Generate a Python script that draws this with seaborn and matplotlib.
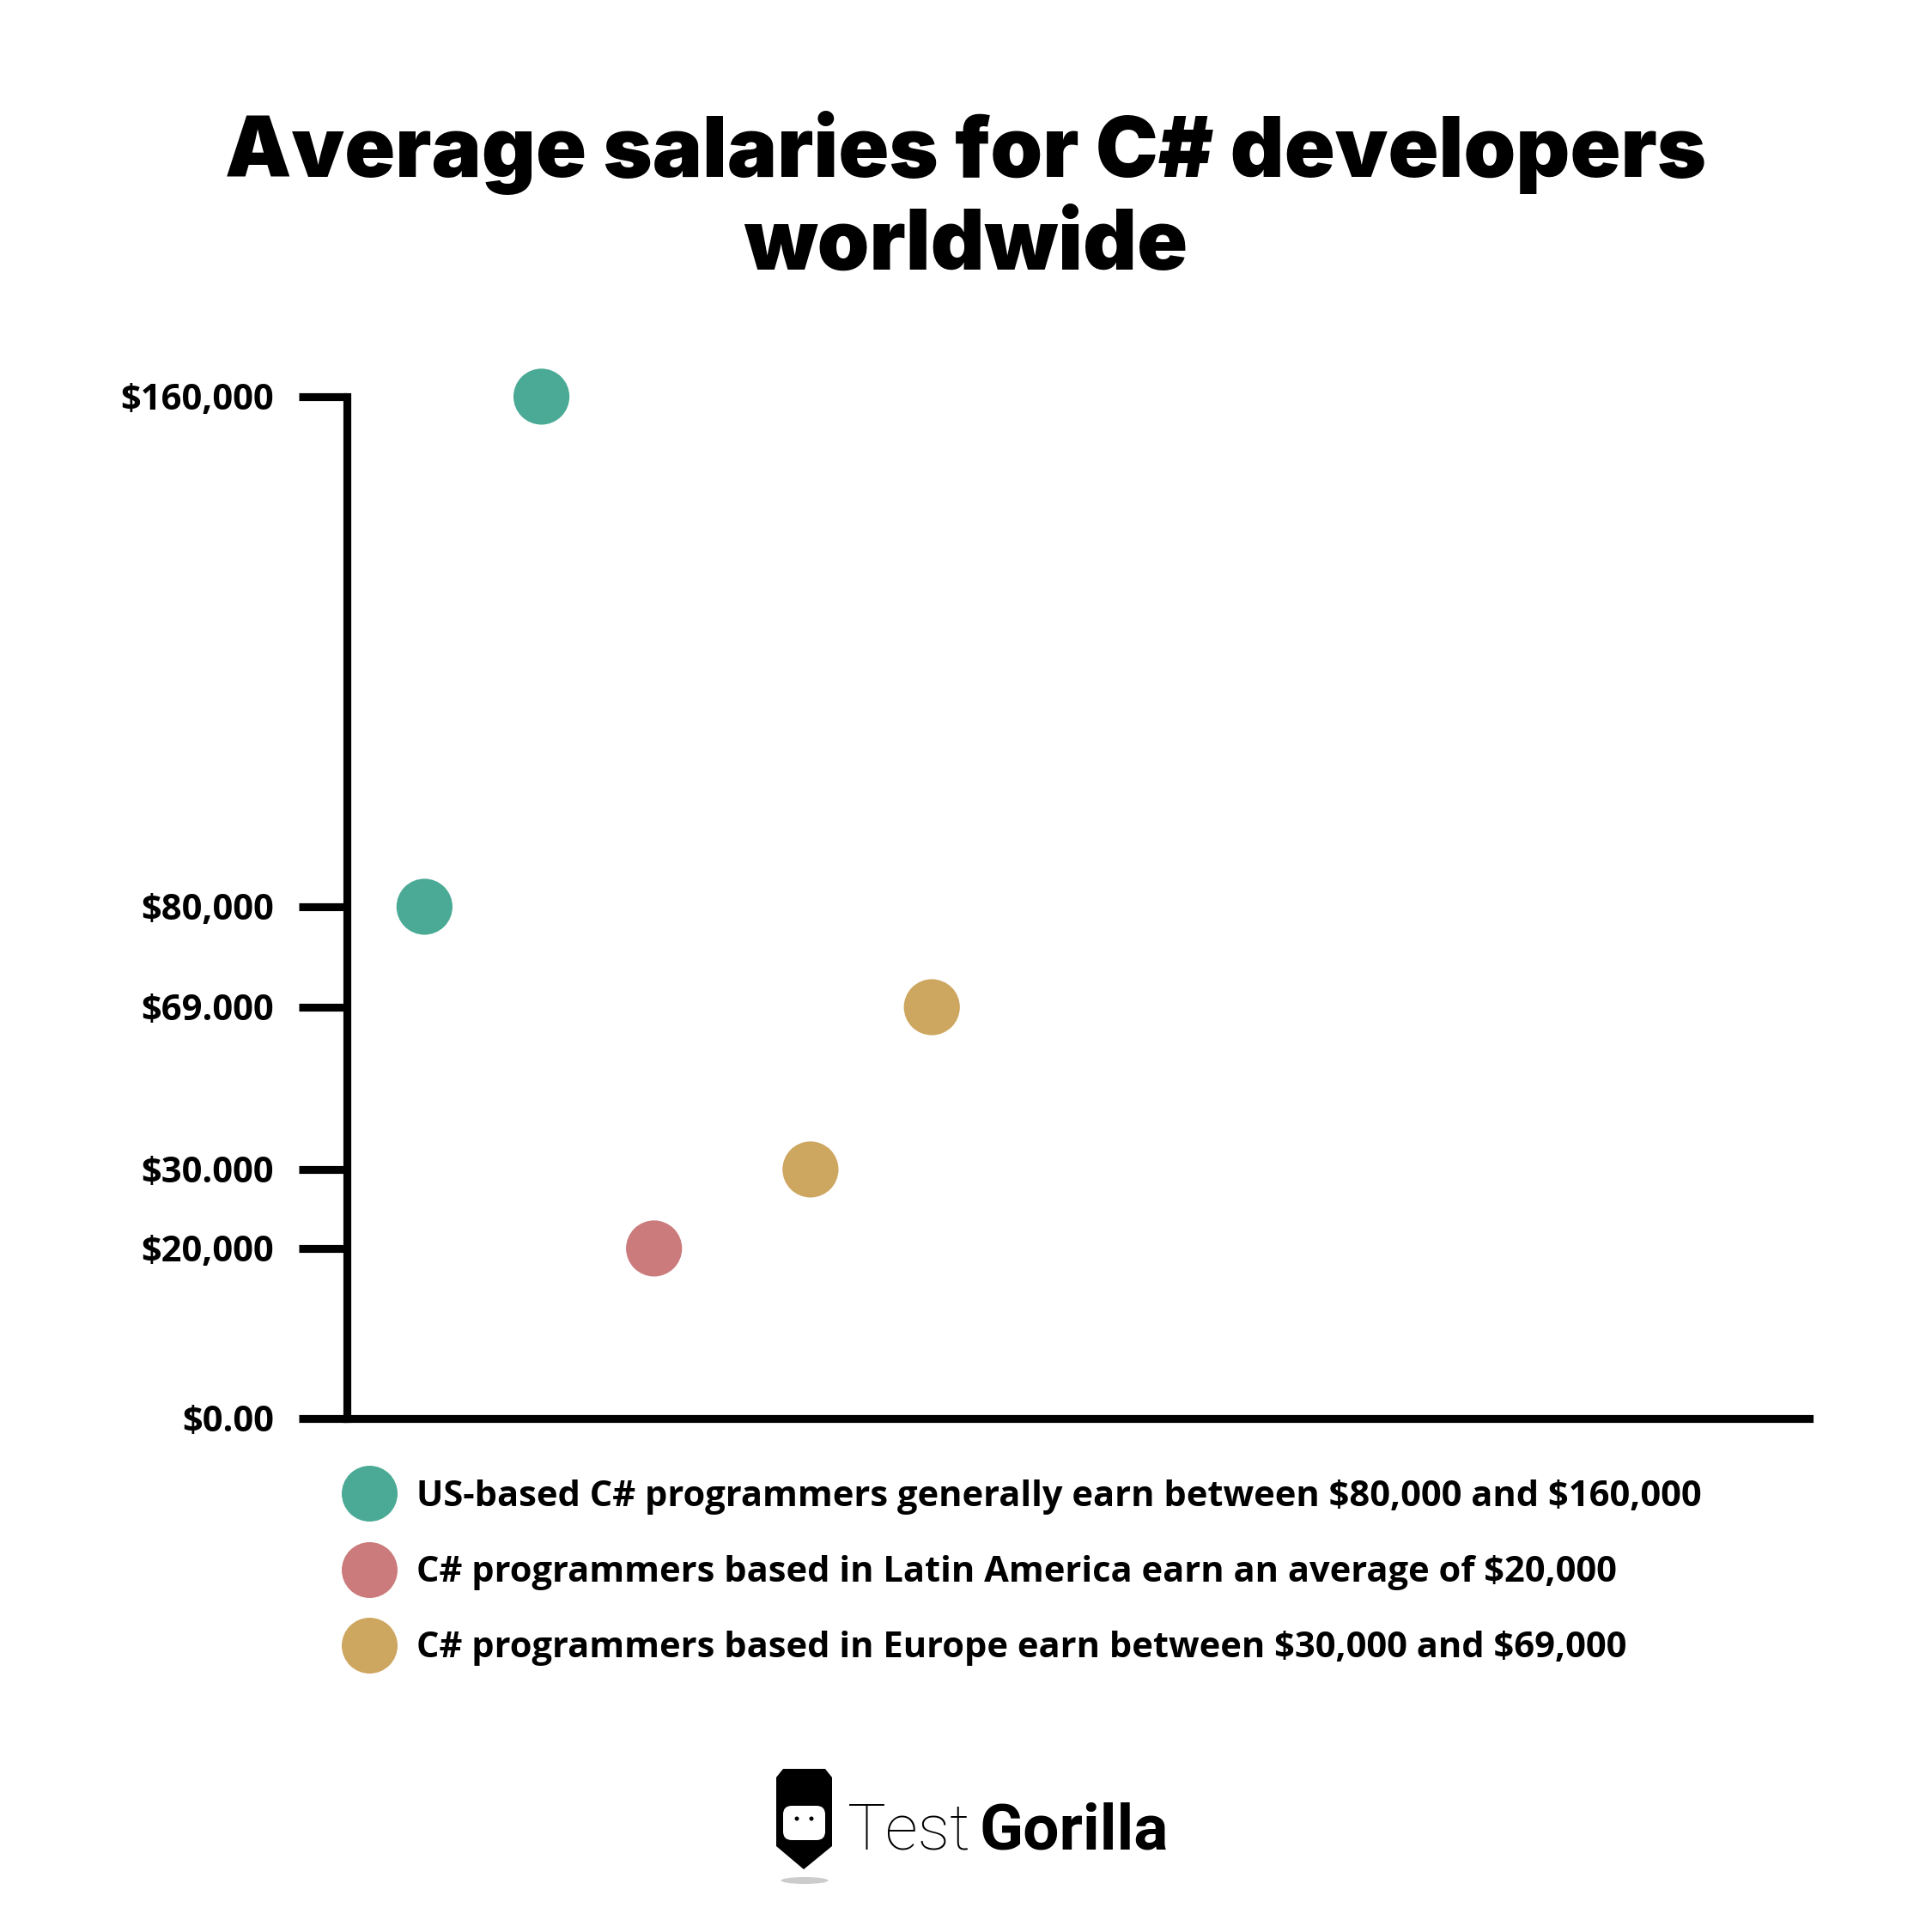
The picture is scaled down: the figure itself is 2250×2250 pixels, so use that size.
import matplotlib
matplotlib.use("Agg")
import matplotlib.pyplot as plt
import matplotlib.patches as mpatches
import matplotlib.transforms as mtransforms
from matplotlib.lines import Line2D
from matplotlib.ticker import FixedLocator, FixedFormatter
import numpy as np
import seaborn as sns
import pandas as pd

# data
groups = [
    "US-based C# programmers generally earn between $80,000 and $160,000",
    "C# programmers based in Latin America earn an average of $20,000",
    "C# programmers based in Europe earn between $30,000 and $69,000",
]
point_group = [groups[0], groups[0], groups[1], groups[2], groups[2]]
point_x = [0.53, 1.33, 2.10, 3.17, 4.00]
salary = [80000, 160000, 20000, 30000, 69000]
colors = ["#4aaa95", "#cb7b7b", "#cda660"]

tick_values = [0, 20000, 30000, 69000, 80000, 160000]
tick_labels = ["$0.00", "$20,000", "$30.000", "$69.000", "$80,000", "$160,000"]
# where each tick sits on the (uneven) axis, as share of axis height
tick_share = [0, 0.1664, 0.2437, 0.4025, 0.5008, 1.0]

df = pd.DataFrame({"x": point_x, "salary": salary, "group": point_group})

sns.set_style("white")
plt.rcParams["font.family"] = ["Open Sans", "DejaVu Sans"]
plt.rcParams["text.color"] = "black"
plt.rcParams["ytick.labelcolor"] = "black"

fig = plt.figure(figsize=(7.5, 7.5), dpi=300)
ax = fig.add_axes([0.1796, 0.2658, 0.7568, 0.5289])


def fwd(v):
    return np.interp(v, tick_values, tick_share)


def inv(p):
    return np.interp(p, tick_share, tick_values)


ax.set_yscale("function", functions=(fwd, inv))

sns.scatterplot(data=df, x="x", y="salary", hue="group", hue_order=groups,
                palette=colors, s=245, linewidth=0, legend=False, ax=ax,
                clip_on=False, zorder=3)

ax.set_xlim(0, 10)
ax.set_ylim(0, 160000)
ax.yaxis.set_major_locator(FixedLocator(tick_values))
ax.yaxis.set_major_formatter(FixedFormatter(tick_labels))
ax.yaxis.set_minor_locator(FixedLocator([]))
ax.set_xticks([])
ax.set_xlabel("")
ax.set_ylabel("")

for side in ["top", "right"]:
    ax.spines[side].set_visible(False)
for side in ["left", "bottom"]:
    ax.spines[side].set_linewidth(2.2)
    ax.spines[side].set_color("black")
ax.tick_params(axis="y", direction="out", length=13.5, width=2.2, color="black",
               pad=7, labelsize=10, left=True, labelcolor="black")
for lab in ax.get_yticklabels():
    lab.set_fontweight("bold")
    lab.set_parse_math(False)

# title
title_font = ["Inter", "DejaVu Sans"]
fig.text(0.5, 0.921, "Average salaries for C# developers", ha="center", va="center",
         fontsize=23.4, fontweight="black", family=title_font)
fig.text(0.5, 0.872, "worldwide", ha="center", va="center",
         fontsize=23.4, fontweight="black", family=title_font)

# legend
handles = [Line2D([0], [0], marker="o", linestyle="", markersize=15.6,
                  markerfacecolor=c, markeredgewidth=0) for c in colors]
leg = fig.legend(handles, groups, loc="upper left", bbox_to_anchor=(0.182, 0.2342),
                 frameon=False, handlelength=1.0, handletextpad=0.82,
                 labelspacing=1.13, borderpad=0, borderaxespad=0,
                 prop={"weight": "bold", "size": 10})
for t in leg.get_texts():
    t.set_parse_math(False)
    t.set_color("black")

# logo (pixel coordinates, origin at bottom left)
px = mtransforms.IdentityTransform()
H = 2250
fig.patches.append(mpatches.Polygon(
    [[904, H - 2070], [912, H - 2060], [961, H - 2060], [969, H - 2070],
     [969, H - 2150], [936, H - 2177], [904, H - 2150]],
    closed=True, facecolor="black", edgecolor="none", transform=px, figure=fig))
fig.patches.append(mpatches.FancyBboxPatch(
    (912, H - 2143), 49, 40, boxstyle="round,pad=0,rounding_size=10",
    facecolor="white", edgecolor="none", transform=px, figure=fig))
for ex in (928, 945):
    fig.patches.append(mpatches.Ellipse((ex, H - 2118), 5, 5, facecolor="black",
                                        edgecolor="none", transform=px, figure=fig))
fig.patches.append(mpatches.Ellipse((937, H - 2190), 55, 8, facecolor="#cccccc",
                                    edgecolor="none", transform=px, figure=fig))
fig.text(987 / H, 1 - 2153 / H, "Test", ha="left", va="baseline", fontsize=18,
         fontweight="light", family=["Roboto", "DejaVu Sans"])
fig.text(1140 / H, 1 - 2153 / H, "Gorilla", ha="left", va="baseline", fontsize=18,
         fontweight="bold", family=["Roboto", "DejaVu Sans"])

fig.savefig("out.png", dpi=300, facecolor="white")
